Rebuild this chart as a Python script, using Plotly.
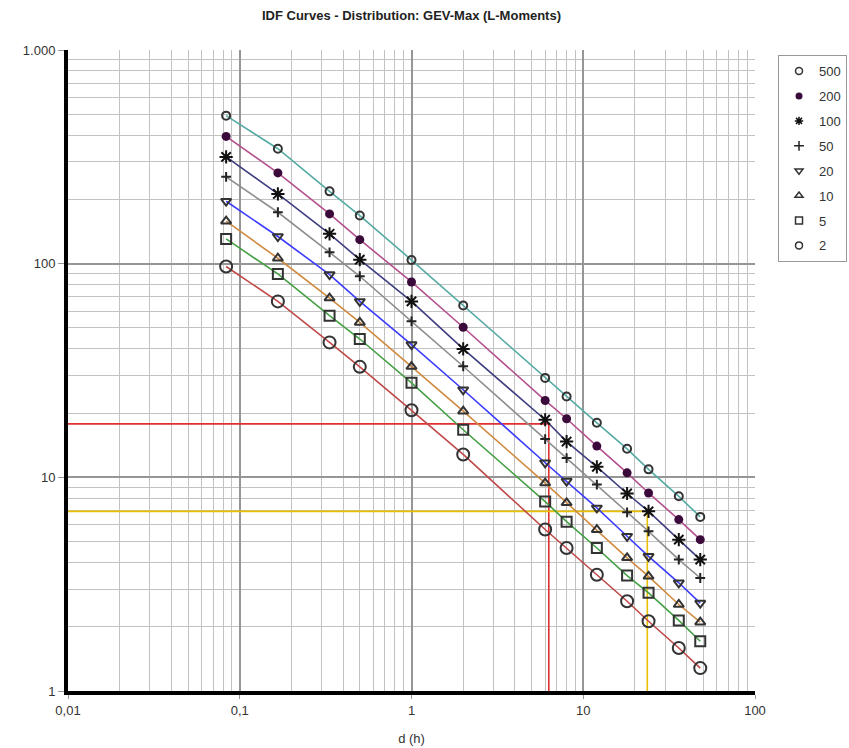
import plotly.graph_objects as go

# ---------------- data ----------------
durations_h = [0.0833, 0.1667, 0.3333, 0.5, 1, 2, 6, 8, 12, 18, 24, 36, 48]
return_periods = ["500", "200", "100", "50", "20", "10", "5", "2"]

i_500 = [493, 345, 218, 168, 104, 63.7, 29.2, 23.9, 18.0, 13.6, 10.9, 8.15, 6.53]
i_200 = [394, 266, 171, 129.5, 82.1, 50.4, 22.9, 18.8, 14.0, 10.5, 8.45, 6.34, 5.11]
i_100 = [316, 212, 138, 104.4, 66.6, 39.9, 18.6, 14.7, 11.2, 8.4, 6.93, 5.11, 4.12]
i_50 = [255, 174, 113, 87.3, 53.7, 33.1, 15.1, 12.3, 9.25, 6.86, 5.59, 4.12, 3.38]
i_20 = [196, 134, 88.9, 66.6, 41.8, 25.7, 11.7, 9.6, 7.19, 5.30, 4.27, 3.21, 2.58]
i_10 = [158, 106, 69, 53.1, 33.0, 20.4, 9.4, 7.6, 5.69, 4.20, 3.44, 2.54, 2.10]
i_5 = [130.5, 89.5, 57.1, 44.4, 27.7, 16.7, 7.7, 6.2, 4.67, 3.47, 2.88, 2.14, 1.71]
i_2 = [97, 66.6, 42.8, 32.9, 20.6, 12.8, 5.7, 4.67, 3.5, 2.63, 2.12, 1.59, 1.28]

series = [i_500, i_200, i_100, i_50, i_20, i_10, i_5, i_2]

# reading guides (duration h, intensity mm/h)
guide_red = (6.3, 17.8)
guide_yellow = (23.6, 6.93)

x_ticks = [0.01, 0.1, 1, 10, 100]
x_ticktext = ["0,01", "0,1", "1", "10", "100"]
y_ticks = [1, 10, 100, 1000]
y_ticktext = ["1", "10", "100", "1.000"]

# ---------------- styles ----------------
line_colors = ["#55aaa4", "#b4508e", "#3e3e80", "#8e8e8e", "#3c3cff", "#d08a40", "#45a045", "#c04848"]
symbols = ["circle-open", "circle", "asterisk-open", "cross-thin-open",
           "triangle-down-open", "triangle-up-open", "square-open", "circle-open"]
msizes = [8, 9, 11, 7, 9, 9, 10, 12]
mcolors = ["#333333", "#3a0a3a", "#111111", "#222222", "#333333", "#333333", "#333333", "#333333"]

x_min, x_max = 0.01, 100
y_min = 1

fig = go.Figure()

# guide lines
for (gx, gy), col in [(guide_red, "#e03030"), (guide_yellow, "#e8c000")]:
    fig.add_trace(go.Scatter(x=[x_min, gx, gx], y=[gy, gy, y_min], mode="lines",
                             line=dict(color=col, width=1.6), showlegend=False,
                             hoverinfo="skip"))

# curves
for k, vals in enumerate(series):
    fig.add_trace(go.Scatter(
        x=durations_h, y=vals, mode="lines+markers", showlegend=False,
        name=return_periods[k],
        line=dict(color=line_colors[k], width=1.6),
        marker=dict(symbol=symbols[k], size=msizes[k], color=mcolors[k],
                    line=dict(color=mcolors[k], width=2 if k != 1 else 0)),
    ))

# legend entries (markers only)
for k, lab in enumerate(return_periods):
    fig.add_trace(go.Scatter(
        x=[None], y=[None], mode="markers", name=lab, legendgroup=lab,
        marker=dict(symbol=symbols[k], size=7, color=mcolors[k],
                    line=dict(color=mcolors[k], width=1.5 if k != 1 else 0)),
    ))

minor_x = [m * 10 ** e for e in range(-2, 2) for m in range(2, 10)]
minor_y = [m * 10 ** e for e in range(0, 3) for m in range(2, 10)]

fig.update_layout(
    width=849, height=748,
    margin=dict(l=68, r=94, t=50, b=57, autoexpand=False),
    paper_bgcolor="white", plot_bgcolor="white",
    font=dict(family="Liberation Sans, Arial, sans-serif", size=13, color="#333333"),
    title=dict(text="<b>IDF Curves - Distribution: GEV-Max (L-Moments)</b>",
               x=0.5, xref="paper", xanchor="center",
               y=1 - 15 / 748, yref="container", yanchor="middle",
               font=dict(family="Liberation Sans, Arial",
                         size=13, color="#222222")),
    legend=dict(x=1.0335, y=0.992, xanchor="left", yanchor="top",
                bordercolor="#999999", borderwidth=1, bgcolor="white",
                font=dict(size=13, color="#333333"), tracegroupgap=5,
                itemwidth=30),
    showlegend=True,
)

fig.update_xaxes(
    type="log", range=[-2, 2],
    tickvals=x_ticks, ticktext=x_ticktext,
    showgrid=True, gridcolor="#969696", gridwidth=1.8,
    minor=dict(tickvals=minor_x, showgrid=True, gridcolor="#c2c2c2", gridwidth=1.2),
    showline=True, linecolor="black", linewidth=4,
    ticks="outside", ticklen=4, tickcolor="#999999",
    zeroline=False,
    title=dict(text="d (h)", standoff=18, font=dict(size=13, color="#333333")),
)
fig.update_yaxes(
    type="log", range=[0, 3],
    tickvals=y_ticks, ticktext=y_ticktext,
    showgrid=True, gridcolor="#969696", gridwidth=1.8,
    minor=dict(tickvals=minor_y, showgrid=True, gridcolor="#c2c2c2", gridwidth=1.2),
    showline=True, linecolor="black", linewidth=4,
    ticks="outside", ticklen=6, tickcolor="#999999",
    zeroline=False,
)

fig.write_html("out.html")
